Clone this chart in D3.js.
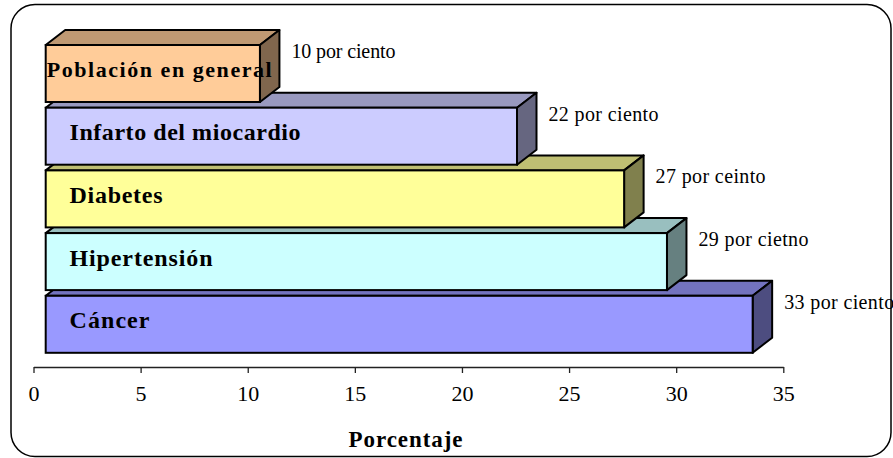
<!DOCTYPE html>
<html>
<head>
<meta charset="utf-8">
<script src="https://cdn.jsdelivr.net/npm/d3@7"></script>
<style>
  html, body { margin: 0; padding: 0; background: #fff; }
  svg { display: block; }
  text { font-family: "Liberation Serif", "Times New Roman", serif; }
</style>
</head>
<body>
<svg id="chart" width="893" height="458"></svg>
<script>
// Categories, top to bottom
const categories = ["Población en general", "Infarto del miocardio", "Diabetes", "Hipertensión", "Cáncer"];
// Percentages per category
const values = [10, 22, 27, 29, 33];
// Value labels written next to each bar
const valueLabels = ["10 por ciento", "22 por ciento", "27 por ceinto", "29 por cietno", "33 por ciento"];
// Front face colours
const frontColors = ["#FFCC99", "#CCCCFF", "#FFFF99", "#CCFFFF", "#9999FF"];
// Axis ticks
const tickValues = [0, 5, 10, 15, 20, 25, 30, 35];
const axisTitle = "Porcentaje";

const svg = d3.select("#chart");

// Rounded frame around the whole chart
svg.append("rect")
  .attr("x", 11).attr("y", 4.5)
  .attr("width", 880).attr("height", 452)
  .attr("rx", 24).attr("ry", 24)
  .attr("fill", "#fff").attr("stroke", "#000").attr("stroke-width", 1.5);

const x = d3.scaleLinear().domain([0, 35]).range([33.5, 783.3]);
const y = d3.scaleBand().domain(categories).range([45, 352.8]).paddingInner(0.091).paddingOuter(0);

// 3D extrusion (depth) of the bars
const depthX = 19.5, depthY = 15, frontShift = 12.2;

const data = categories.map((c, i) => ({
  cat: c, v: values[i], label: valueLabels[i], color: frontColors[i]
}));

// Axis on the floor of the plot
const axis = d3.axisBottom(x).tickValues(tickValues).tickSize(6).tickSizeOuter(0).tickFormat(d3.format("d"));
const axisG = svg.append("g").attr("transform", "translate(0,367)").call(axis);
axisG.select(".domain").attr("stroke", "#222").attr("stroke-width", 1.3);
axisG.selectAll(".tick line").attr("stroke", "#222").attr("stroke-width", 1.3);
axisG.selectAll(".tick text")
  .attr("y", 33.7).attr("dy", null)
  .attr("fill", "#000")
  .style("font-size", "22px")
  .style("font-family", "'Liberation Serif', 'Times New Roman', serif");

svg.append("text")
  .attr("x", 405.5).attr("y", 447)
  .attr("text-anchor", "middle")
  .style("font-size", "23px").style("font-weight", "bold")
  .attr("textLength", 114).attr("lengthAdjust", "spacing")
  .text(axisTitle);

// Bars drawn bottom-up so each upper bar overlaps the top face of the one below
const shade = (c, k) => {
  const r = d3.rgb(c);
  return d3.rgb(r.r * k, r.g * k, r.b * k).formatHex();
};

const bars = svg.append("g")
  .selectAll("g.bar")
  .data(data.slice().reverse())
  .join("g").attr("class", "bar");

bars.each(function(d) {
  const g = d3.select(this);
  const x0 = x(0) + frontShift;
  const x1 = x(d.v) + frontShift;
  const y0 = y(d.cat);
  const y1 = y0 + y.bandwidth();

  // top face
  g.append("path")
    .attr("d", d3.line()([[x0, y0], [x0 + depthX, y0 - depthY], [x1 + depthX, y0 - depthY], [x1, y0]]) + "Z")
    .attr("fill", shade(d.color, 0.75))
    .attr("stroke", "#000").attr("stroke-width", 2).attr("stroke-linejoin", "round");
  // side face
  g.append("path")
    .attr("d", d3.line()([[x1, y0], [x1 + depthX, y0 - depthY], [x1 + depthX, y1 - depthY], [x1, y1]]) + "Z")
    .attr("fill", shade(d.color, 0.5))
    .attr("stroke", "#000").attr("stroke-width", 2).attr("stroke-linejoin", "round");
  // front face
  g.append("rect")
    .attr("x", x0).attr("y", y0)
    .attr("width", x1 - x0).attr("height", y1 - y0)
    .attr("fill", d.color)
    .attr("stroke", "#000").attr("stroke-width", 2);
});

// Category names inside the bars
const nameWidths = { "Población en general": 225, "Infarto del miocardio": 231, "Diabetes": 93, "Hipertensión": 143, "Cáncer": 80 };
svg.append("g")
  .selectAll("text")
  .data(data)
  .join("text")
  .attr("x", (d, i) => i === 0 ? x(0) + frontShift + 1 : x(0) + 36)
  .attr("y", d => y(d.cat) + y.bandwidth() / 2 + 4)
  .style("font-size", (d, i) => i === 0 ? "22px" : "24px").style("font-weight", "bold")
  .attr("textLength", d => nameWidths[d.cat]).attr("lengthAdjust", "spacing")
  .text(d => d.cat);

// Value labels beside each bar
svg.append("g")
  .selectAll("text")
  .data(data)
  .join("text")
  .attr("x", d => x(d.v) + frontShift + depthX + 12)
  .attr("y", d => y(d.cat) + 13)
  .style("font-size", "20px")
  .attr("textLength", d => d.v === 10 ? 104 : 110).attr("lengthAdjust", "spacing")
  .text(d => d.label);
</script>
</body>
</html>
